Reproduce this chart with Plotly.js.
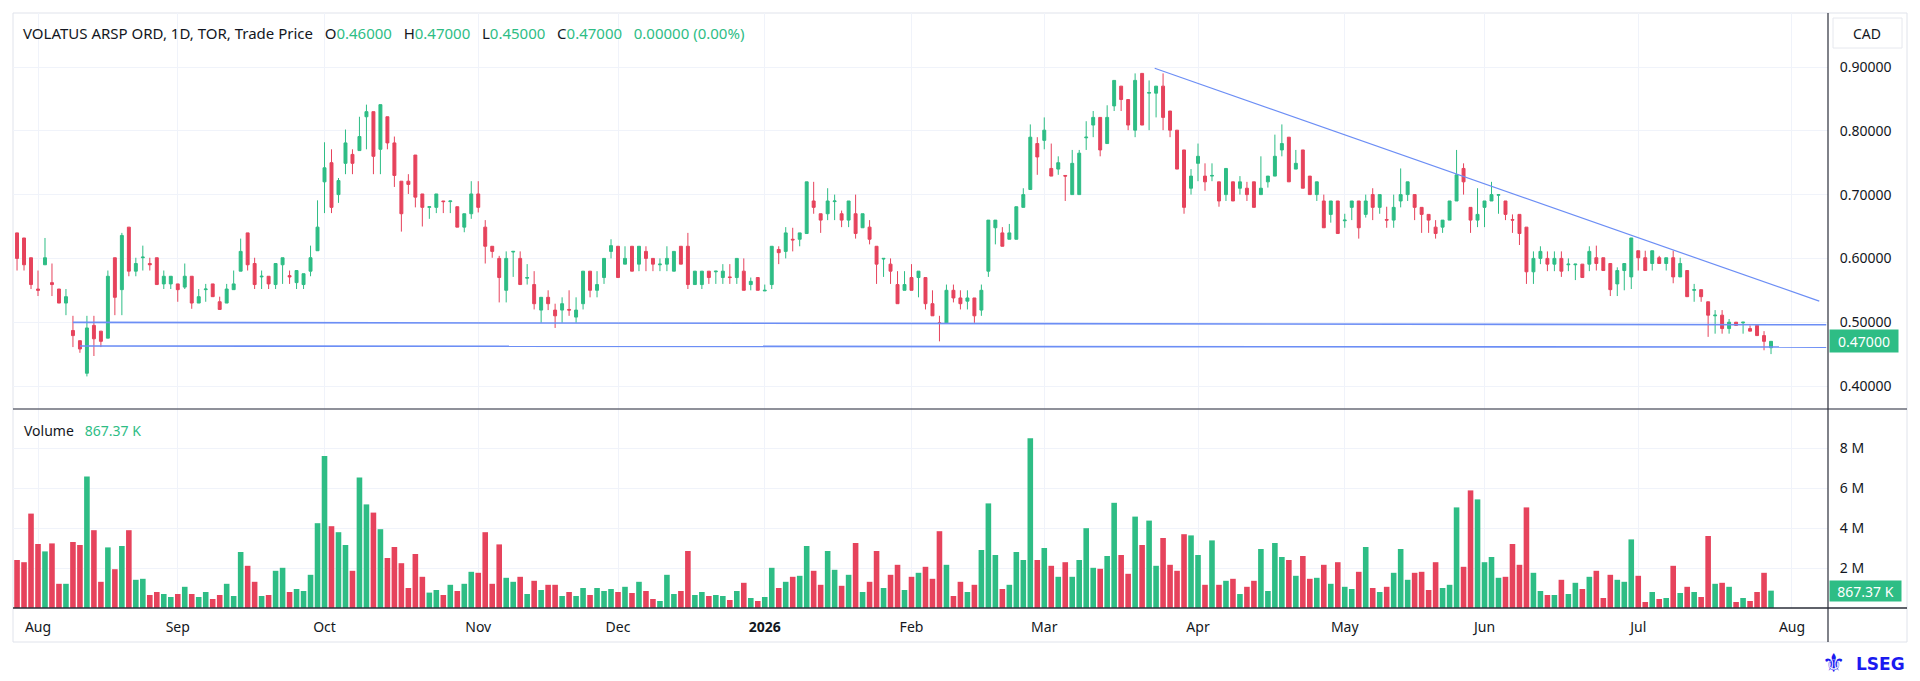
<!DOCTYPE html>
<html>
<head>
<meta charset="utf-8">
<script src="https://cdn.plot.ly/plotly-3.0.1.min.js"></script>
<style>
html,body{margin:0;padding:0;background:#ffffff;}
#chart{width:1920px;height:681px;}
</style>
</head>
<body>
<div id="chart"></div>
<script>
// ---------------- DATA ----------------
const firstDay = '2025-07-29';
const axisEndDay = '2026-08-04';
const tsxHolidays = ['2025-08-04','2025-09-01','2025-10-13','2025-12-25','2025-12-26','2026-01-01',
  '2026-02-16','2026-04-03','2026-05-18','2026-07-01','2026-08-03'];
const monthLabels = ['Aug','Sep','Oct','Nov','Dec','2026','Feb','Mar','Apr','May','Jun','Jul','Aug'];
const priceTicks = [0.4,0.5,0.6,0.7,0.8,0.9];
const volTicks = [2,4,6,8];
const volTickLabels = ['2 M','4 M','6 M','8 M'];

const openP = [
.640,.632,.601,.552,.590,.562,.552,.530,.487,.471,
.420,.495,.486,.475,.601,.551,.649,.580,.601,.592,
.601,.560,.560,.560,.555,.572,.530,.551,.560,.532,
.530,.551,.580,.640,.592,.571,.572,.559,.590,.573,
.562,.559,.580,.612,.720,.750,.700,.749,.763,.769,
.822,.830,.771,.822,.781,.721,.721,.762,.701,.680,
.680,.690,.689,.681,.649,.670,.701,.649,.619,.600,
.550,.610,.600,.569,.559,.519,.539,.519,.519,.520,
.508,.529,.580,.550,.570,.611,.619,.591,.619,.591,
.611,.600,.590,.591,.580,.619,.619,.559,.559,.580,
.579,.570,.571,.570,.580,.559,.570,.549,.559,.614,
.611,.630,.630,.639,.690,.670,.670,.689,.670,.660,
.670,.648,.649,.619,.599,.591,.559,.550,.570,.570,
.570,.529,.499,.498,.550,.538,.533,.538,.519,.580,
.648,.640,.630,.630,.680,.708,.780,.785,.741,.740,
.730,.700,.700,.789,.809,.821,.780,.839,.870,.849,
.801,.890,.859,.859,.870,.831,.801,.770,.710,.749,
.729,.729,.720,.700,.720,.710,.710,.720,.700,.720,
.729,.770,.790,.740,.770,.729,.700,.690,.669,.690,
.659,.680,.690,.669,.700,.680,.661,.660,.690,.700,
.700,.680,.669,.649,.649,.660,.690,.741,.680,.660,
.680,.690,.699,.690,.661,.669,.649,.579,.600,.600,
.591,.600,.590,.590,.591,.591,.601,.601,.592,.560,
.581,.571,.612,.601,.592,.601,.592,.601,.571,.581,
.550,.551,.532,.510,.511,.490,.500,.499,.490,.495,
.479,.460];

const highP = [
.640,.632,.601,.581,.632,.592,.552,.552,.510,.471,
.510,.510,.486,.581,.601,.640,.649,.601,.620,.601,
.601,.581,.572,.560,.592,.572,.552,.560,.560,.540,
.560,.581,.631,.640,.601,.581,.572,.592,.601,.581,
.581,.576,.620,.691,.782,.771,.726,.802,.771,.822,
.841,.830,.841,.822,.791,.721,.732,.762,.701,.681,
.701,.690,.690,.681,.670,.721,.721,.660,.619,.604,
.611,.611,.611,.591,.580,.539,.550,.529,.539,.550,
.539,.580,.580,.580,.600,.630,.619,.619,.619,.619,
.619,.600,.600,.619,.611,.619,.640,.580,.580,.580,
.580,.591,.591,.600,.600,.570,.570,.559,.619,.619,
.649,.648,.640,.720,.720,.670,.710,.700,.675,.690,
.700,.670,.660,.619,.600,.600,.580,.580,.591,.580,
.570,.550,.510,.559,.559,.550,.550,.538,.559,.660,
.660,.649,.654,.681,.710,.810,.790,.821,.780,.760,
.730,.770,.770,.815,.831,.821,.840,.879,.870,.849,
.890,.890,.879,.870,.890,.831,.801,.770,.740,.780,
.749,.749,.720,.741,.720,.729,.720,.720,.760,.729,
.794,.810,.790,.770,.770,.729,.720,.700,.690,.690,
.670,.690,.690,.700,.710,.700,.681,.700,.741,.720,
.700,.680,.669,.660,.660,.690,.770,.749,.680,.710,
.690,.720,.700,.690,.669,.669,.649,.611,.619,.611,
.611,.611,.600,.591,.591,.619,.620,.601,.592,.586,
.592,.632,.612,.612,.612,.604,.601,.612,.601,.581,
.560,.551,.532,.519,.519,.505,.500,.500,.495,.495,
.486,.470];

const lowP = [
.581,.581,.552,.541,.590,.541,.530,.511,.461,.452,
.415,.447,.461,.475,.511,.511,.572,.572,.581,.581,
.559,.552,.552,.532,.552,.521,.530,.532,.540,.520,
.530,.551,.580,.581,.552,.552,.552,.552,.560,.560,
.552,.552,.572,.612,.671,.671,.687,.732,.732,.769,
.771,.732,.732,.771,.712,.642,.701,.680,.650,.662,
.671,.671,.671,.649,.641,.662,.672,.592,.601,.531,
.531,.571,.559,.559,.520,.499,.519,.491,.499,.510,
.499,.520,.539,.539,.560,.600,.570,.591,.580,.580,
.580,.580,.580,.580,.580,.591,.552,.559,.552,.560,
.560,.560,.560,.560,.550,.550,.550,.549,.552,.591,
.600,.611,.619,.639,.670,.640,.660,.660,.649,.649,
.631,.648,.622,.560,.571,.560,.529,.550,.550,.539,
.520,.510,.470,.498,.531,.520,.520,.499,.510,.571,
.622,.619,.630,.630,.680,.708,.731,.771,.729,.731,
.690,.700,.700,.770,.790,.760,.780,.831,.831,.801,
.790,.809,.801,.821,.801,.790,.740,.670,.700,.721,
.706,.721,.681,.690,.690,.700,.690,.680,.700,.711,
.729,.760,.720,.740,.710,.700,.690,.648,.656,.639,
.648,.660,.631,.664,.660,.670,.648,.648,.680,.690,
.660,.640,.640,.631,.640,.660,.690,.700,.640,.649,
.649,.690,.670,.660,.640,.621,.560,.560,.591,.580,
.580,.571,.580,.566,.570,.580,.581,.581,.541,.541,
.550,.552,.581,.581,.581,.592,.581,.561,.571,.540,
.532,.532,.477,.482,.482,.482,.495,.482,.486,.479,
.456,.450];

const closeP = [
.600,.590,.559,.550,.601,.559,.530,.540,.479,.458,
.491,.474,.470,.572,.539,.636,.580,.592,.602,.590,
.559,.572,.572,.551,.572,.530,.540,.552,.540,.520,
.552,.560,.611,.590,.559,.572,.560,.592,.601,.571,
.581,.576,.601,.649,.742,.680,.722,.781,.749,.791,
.830,.760,.841,.781,.730,.670,.716,.696,.680,.681,
.701,.689,.690,.649,.670,.701,.680,.619,.611,.570,
.600,.611,.559,.570,.529,.539,.529,.510,.529,.519,
.519,.580,.550,.559,.600,.620,.570,.600,.580,.619,
.600,.591,.591,.600,.611,.591,.559,.580,.580,.570,
.580,.580,.570,.600,.550,.564,.550,.550,.619,.609,
.640,.629,.640,.720,.680,.660,.690,.690,.660,.690,
.639,.670,.630,.591,.600,.580,.529,.559,.550,.580,
.529,.510,.498,.550,.538,.529,.538,.510,.550,.660,
.660,.619,.640,.681,.700,.790,.759,.801,.729,.750,
.729,.749,.765,.790,.821,.770,.821,.879,.849,.809,
.879,.809,.860,.870,.821,.801,.740,.680,.729,.760,
.720,.730,.690,.741,.690,.720,.700,.680,.710,.729,
.760,.780,.720,.749,.710,.700,.720,.648,.690,.639,
.660,.690,.648,.690,.680,.700,.660,.680,.700,.720,
.680,.669,.660,.639,.660,.690,.731,.720,.660,.669,
.690,.700,.700,.669,.660,.639,.579,.600,.611,.591,
.600,.580,.591,.591,.570,.611,.592,.581,.551,.581,
.592,.632,.601,.581,.612,.592,.601,.571,.592,.540,
.551,.540,.511,.511,.490,.500,.495,.500,.486,.479,
.470,.470];

// volume in millions of shares
const volumeM = [
2.40,2.29,4.72,3.20,2.83,3.23,1.21,1.21,3.30,3.15,
6.57,3.89,1.31,3.03,1.94,3.10,3.89,1.41,1.46,0.65,
0.80,0.70,0.55,0.70,1.06,0.70,0.55,0.80,0.45,0.65,
1.21,0.60,2.80,2.11,1.31,0.60,0.65,1.86,2.01,0.80,
0.95,0.85,1.66,4.24,7.60,4.09,3.79,3.15,1.86,6.52,
5.18,4.77,3.94,2.50,3.05,2.24,1.00,2.70,1.56,0.77,
0.90,0.65,1.16,0.85,1.21,1.81,1.76,3.79,1.21,3.18,
1.51,1.31,1.56,0.70,1.36,0.90,1.16,1.16,0.60,0.80,
0.60,1.00,0.65,1.00,0.85,0.95,0.80,1.06,0.75,1.31,
0.85,0.45,0.35,1.66,0.70,0.85,2.85,0.65,0.80,0.60,
0.65,0.60,0.40,0.85,1.26,0.50,0.35,0.55,2.01,1.00,
1.31,1.56,1.61,3.10,1.86,1.16,2.85,1.91,1.11,1.66,
3.25,0.80,1.31,2.85,1.00,1.66,2.16,0.90,1.56,1.76,
2.06,1.46,3.84,2.16,0.60,1.31,0.80,1.16,2.90,5.23,
2.65,0.95,1.16,2.80,2.40,8.49,2.40,3.00,2.11,1.56,
2.29,1.56,2.40,3.99,2.01,1.96,2.60,5.26,2.65,1.71,
4.57,3.15,4.37,2.11,3.50,2.16,1.86,3.69,3.63,2.65,
1.16,3.38,1.16,1.36,1.46,0.70,1.06,1.36,2.95,0.85,
3.25,2.55,2.40,1.61,2.60,1.46,1.51,2.16,1.21,2.29,
1.06,0.95,1.81,3.05,1.00,0.80,1.06,1.76,2.95,1.41,
1.76,1.81,0.90,2.29,1.00,1.16,5.03,2.06,5.88,5.43,
2.29,2.55,1.51,1.56,3.20,2.16,5.03,1.76,0.85,0.65,
0.65,1.41,0.70,1.26,0.95,1.56,1.86,0.50,1.66,1.41,
1.31,3.43,1.61,0.30,0.80,0.45,0.50,2.11,0.75,1.06,
0.80,0.55,3.60,1.21,1.26,1.06,0.30,0.50,0.35,0.80,
1.76,0.86737];

// drawn lines: [start index, start price, end index, end price]
const levelLines = [
  [8, 0.4997, 258.9, 0.4960],
  [9, 0.4627, 258.9, 0.4610]
];
const downTrend = [162.8, 0.898, 257.9, 0.533];

const tickerTitle = 'VOLATUS ARSP ORD, 1D, TOR, Trade Price';
const ohlcLabels = ['O','H','L','C'];
const ohlcValues = ['0.46000','0.47000','0.45000','0.47000'];
const changeText = '0.00000 (0.00%)';
const lastVolumeText = '867.37 K';
const lastPriceText = '0.47000';
const brandText = 'LSEG';

// ---------------- BUILD ----------------
const GREEN = '#2ebd85', RED = '#e6435c', TXT = '#131722', GRID = '#f0f3fa';
const FONT = 'Noto Sans, sans-serif';

function tradingDays(start, end, holidays) {
  const out = [];
  const hs = new Set(holidays);
  let d = new Date(start + 'T00:00:00Z');
  const e = new Date(end + 'T00:00:00Z');
  while (d <= e) {
    const wd = d.getUTCDay();
    const s = d.toISOString().slice(0,10);
    if (wd !== 0 && wd !== 6 && !hs.has(s)) out.push(s);
    d = new Date(d.getTime() + 86400000);
  }
  return out;
}
const days = tradingDays(firstDay, axisEndDay, tsxHolidays);
const tickvals = [];
for (let i = 1; i < days.length; i++) {
  if (days[i].slice(5,7) !== days[i-1].slice(5,7)) tickvals.push(i);
}
const ticktext = monthLabels.map(m => /^\d{4}$/.test(m) ? '<b>' + m + '</b>' : m);

const idx = openP.map((_, i) => i);
const volColors = idx.map(i => closeP[i] >= openP[i] ? GREEN : RED);

// pixel geometry of the frame
const W = 1920, H = 681, L = 13, R = 1828, T = 13, B = 608;
const px = X => (X - L) / (R - L);
const py = Y => (B - Y) / (B - T);
const split = py(409);

const candles = {
  type: 'candlestick', x: idx, open: openP, high: highP, low: lowP, close: closeP,
  xaxis: 'x', yaxis: 'y', whiskerwidth: 0, hoverinfo: 'skip', showlegend: false,
  increasing: {line: {color: GREEN, width: 1}, fillcolor: GREEN},
  decreasing: {line: {color: RED, width: 1}, fillcolor: RED}
};
const vol = {
  type: 'bar', x: idx, y: volumeM, xaxis: 'x', yaxis: 'y2', width: 0.8,
  marker: {color: volColors, line: {width: 0}}, hoverinfo: 'skip', showlegend: false
};

const sp = '\u00a0\u00a0\u00a0';
let titleHtml = '<span style="color:' + TXT + '">' + tickerTitle + '</span>';
ohlcLabels.forEach((lab, k) => {
  titleHtml += sp + '<span style="color:' + TXT + '">' + lab + '</span><span style="color:' + GREEN + '">' + ohlcValues[k] + '</span>';
});
titleHtml += sp + '<span style="color:' + GREEN + '">' + changeText + '</span>';

const lineColor = '#6c8ef5';
const shapes = [
  // outer frame
  {type:'rect', xref:'paper', yref:'paper', x0:0, x1:px(1907), y0:py(642), y1:1, line:{color:'#e0e3eb', width:1}, layer:'below'},
  // pane separator
  {type:'line', xref:'paper', yref:'paper', x0:0, x1:px(1907), y0:split, y1:split, line:{color:'#6a6d78', width:1.5}},
  // bottom baseline
  {type:'line', xref:'paper', yref:'paper', x0:0, x1:px(1907), y0:0, y1:0, line:{color:'#2a2e39', width:1.5}},
  // right axis line
  {type:'line', xref:'paper', yref:'paper', x0:1, x1:1, y0:py(642), y1:1, line:{color:'#2a2e39', width:1.2}},
  // CAD box
  {type:'rect', xref:'paper', yref:'paper', x0:px(1833), x1:px(1902), y0:py(48), y1:py(18), line:{color:'#e6e8ee', width:1}, fillcolor:'#ffffff'}
];
levelLines.forEach(l => shapes.push({type:'line', xref:'x', yref:'y', x0:l[0], y0:l[1], x1:l[2], y1:l[3], line:{color:lineColor, width:1.6}, layer:'above'}));
shapes.push({type:'line', xref:'x', yref:'y', x0:downTrend[0], y0:downTrend[1], x1:downTrend[2], y1:downTrend[3], line:{color:lineColor, width:1.2}, layer:'above'});

const annotations = [
  {xref:'paper', yref:'paper', x:px(21), y:py(33), xanchor:'left', yanchor:'middle', showarrow:false,
   text: titleHtml, font:{family:FONT, size:15, color:TXT}},
  {xref:'paper', yref:'paper', x:px(22), y:py(430), xanchor:'left', yanchor:'middle', showarrow:false,
   text: '<span style="color:' + TXT + '">Volume</span>' + sp + '<span style="color:' + GREEN + '">' + lastVolumeText + '</span>',
   font:{family:FONT, size:14, color:TXT}},
  {xref:'paper', yref:'paper', x:px(1867), y:py(33), xanchor:'center', yanchor:'middle', showarrow:false,
   text:'CAD', font:{family:FONT, size:14, color:TXT}},
  {xref:'paper', yref:'y', x:px(1829), y:closeP[closeP.length-1], xanchor:'left', yanchor:'middle', showarrow:false,
   text:lastPriceText, bgcolor:GREEN, width:62, height:16, borderpad:3, align:'center',
   font:{family:FONT, size:14, color:'#ffffff'}},
  {xref:'paper', yref:'y2', x:px(1829), y:volumeM[volumeM.length-1], xanchor:'left', yanchor:'middle', showarrow:false,
   text:lastVolumeText, bgcolor:GREEN, width:65, height:14, borderpad:3, align:'center',
   font:{family:FONT, size:14, color:'#ffffff'}},
  {xref:'paper', yref:'paper', x:px(1834), y:py(663), xanchor:'center', yanchor:'middle', showarrow:false,
   text:'\u269C', font:{family:'DejaVu Sans, sans-serif', size:26, color:'#1a1af0'}},
  {xref:'paper', yref:'paper', x:px(1907), y:py(664), xanchor:'right', yanchor:'middle', showarrow:false,
   text:'<b>' + brandText + '</b>', font:{family:'DejaVu Sans, sans-serif', size:17, color:'#1a1af0'}}
];

const layout = {
  width: W, height: H,
  margin: {l: L, r: W - R, t: T, b: H - B, pad: 0},
  paper_bgcolor: '#ffffff', plot_bgcolor: '#ffffff',
  showlegend: false, hovermode: false, boxgap: 0.4, bargap: 0.2,
  font: {family: FONT, size: 14, color: TXT},
  xaxis: {
    range: [(L - 17.04) / 6.988, (R - 17.04) / 6.988], anchor: 'y2',
    tickmode: 'array', tickvals: tickvals, ticktext: ticktext,
    showgrid: true, gridcolor: GRID, gridwidth: 1, zeroline: false, showline: false,
    ticks: 'outside', ticklen: 6, tickcolor: 'rgba(0,0,0,0)',
    tickfont: {family: FONT, size: 14, color: TXT}, rangeslider: {visible: false}, fixedrange: true
  },
  yaxis: {
    domain: [split, 1], side: 'right', anchor: 'x',
    range: [0.4 - (409 - 386) / 638, 0.9 + (67 - 13) / 638],
    tickmode: 'array', tickvals: priceTicks, tickformat: '.5f',
    showgrid: true, gridcolor: GRID, gridwidth: 1, zeroline: false, showline: false,
    ticks: 'outside', ticklen: 8, tickcolor: 'rgba(0,0,0,0)',
    tickfont: {family: FONT, size: 14, color: TXT}, fixedrange: true
  },
  yaxis2: {
    domain: [0, split], side: 'right', anchor: 'x',
    range: [0, (B - 409) / 20],
    tickmode: 'array', tickvals: volTicks, ticktext: volTickLabels,
    showgrid: true, gridcolor: GRID, gridwidth: 1, zeroline: false, showline: false,
    ticks: 'outside', ticklen: 8, tickcolor: 'rgba(0,0,0,0)',
    tickfont: {family: FONT, size: 14, color: TXT}, fixedrange: true
  },
  shapes: shapes,
  annotations: annotations
};

Plotly.newPlot('chart', [vol, candles], layout, {staticPlot: true, displayModeBar: false});
</script>
</body>
</html>
